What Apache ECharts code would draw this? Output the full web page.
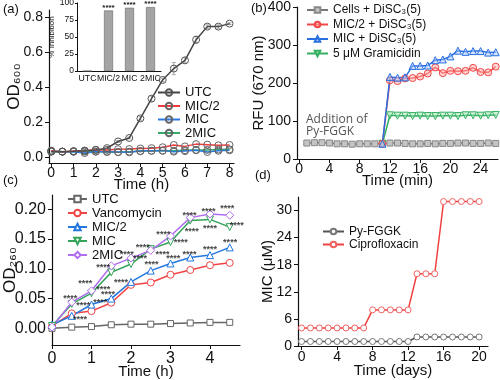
<!DOCTYPE html>
<html><head><meta charset="utf-8">
<script src="https://cdn.jsdelivr.net/npm/echarts@6/dist/echarts.min.js"></script>
<style>html,body{margin:0;padding:0;background:#fff}#c{width:500px;height:380px}</style>
</head><body><div id="c"></div>
<script>
// ---------- Panel (a): growth curves ----------
const timeA = [0,0.5,1,1.5,2,2.5,3,3.5,4,4.5,5,5.5,6,6.5,7,7.5,8];
const aUTC  = [0.030,0.030,0.032,0.035,0.040,0.050,0.088,0.108,0.220,0.333,0.440,0.505,0.552,0.670,0.745,0.745,0.762];
const aUTCerr = [0,0,0,0,0,0,0.005,0.005,0.01,0.015,0.01,0.035,0.015,0.02,0.01,0.01,0.005];
const aMIC2 = [0.035,0.030,0.033,0.036,0.040,0.040,0.044,0.045,0.048,0.050,0.055,0.068,0.060,0.073,0.070,0.066,0.068];
const aMIC  = [0.035,0.030,0.030,0.022,0.030,0.030,0.028,0.026,0.033,0.035,0.036,0.030,0.033,0.038,0.028,0.035,0.038];
const a2MIC = [0.030,0.030,0.030,0.030,0.030,0.028,0.027,0.030,0.033,0.035,0.035,0.035,0.038,0.040,0.040,0.042,0.043];
const aXTicks = [0,1,2,3,4,5,6,7,8];
const aYTicks = [0,0.2,0.4,0.6,0.8];
// inset
const insetCats = ['UTC','MIC/2','MIC','2MIC'];
const insetInhib = [0, 89, 93, 94];
const insetStars = ['', '****', '****', '****'];
// ---------- Panel (b): DiSC3(5) ----------
const timeB = [1,2,3,4,5,6,7,8,9,10,11,12,13,14,15,16,17,18,19,20,21,22,23,24,25,26];
const bCells = [42,43,43,42,40,40,39,40,40,40,41,42,42,41,40,40,41,40,41,41,42,42,41,41,42,41];
const timeB2 = [11,12,13,14,15,16,17,18,19,20,21,22,23,24,25,26];
const bMIC2 = [40,207,205,212,213,217,225,241,226,232,231,232,240,229,228,243];
const bMIC  = [40,216,214,215,245,245,246,260,262,270,285,282,284,284,280,281];
const bGram = [40,115,114,114,113,114,113,113,114,114,113,115,115,114,115,116];
const bXTicks = [0,4,8,12,16,20,24];
const bYTicks = [0,100,200,300,400];
// ---------- Panel (c): OD260 leakage ----------
const timeC = [0,0.5,1,1.5,2,2.5,3,3.5,4,4.5];
const cUTC  = [0.000,0.002,0.003,0.006,0.007,0.007,0.008,0.009,0.010,0.010];
const cVan  = [0.004,0.025,0.029,0.043,0.073,0.077,0.090,0.098,0.106,0.110];
const cMIC2 = [0.006,0.021,0.040,0.050,0.078,0.097,0.109,0.119,0.123,0.136];
const cMIC  = [0.004,0.041,0.059,0.094,0.108,0.133,0.145,0.181,0.183,0.170];
const c2MIC = [0.002,0.044,0.063,0.105,0.118,0.131,0.155,0.186,0.192,0.190];
const cStarX = [0.46,0.79,0.71,0.84,1.22,1.30,1.42,1.30,1.75,1.89,2.23,2.30,2.52,2.80,2.82,3.07,3.26,3.48,3.54,3.48,4.00,4.00,3.96,4.44,4.68,4.51];
const cStarY = [0.053,0.042,0.019,0.079,0.047,0.068,0.061,0.106,0.081,0.127,0.120,0.139,0.110,0.127,0.161,0.120,0.147,0.127,0.166,0.193,0.135,0.171,0.199,0.204,0.176,0.147];
const cXTicks = [0,1,2,3,4];
const cYTicks = [0,0.05,0.10,0.15,0.20];
// ---------- Panel (d): resistance ----------
const timeD = [0,1,2,3,4,5,6,7,8,9,10,11,12,13,14,15,16,17,18,19,20];
const dPy    = [1,1,1,1,1,1,1,1,1,1,1,1,1,2,2,2,2,2,2,2,2];
const dCipro = [4,4,4,4,4,4,4,4,8,8,8,8,8,16,16,16,32,32,32,32,32];
const dXTicks = [0,4,8,12,16,20];
const dYTicks = [0,6,12,18,24,30];

const FONT = 'Liberation Sans, Arial, sans-serif';
const pair = (xs, ys) => xs.map((x, i) => [x, ys[i]]);

function valAxis(o) {
  return Object.assign({
    type: 'value',
    axisLine: { show: true, onZero: false, lineStyle: { color: '#111', width: 1.2 } },
    axisTick: { show: true, length: 4, lineStyle: { color: '#111' } },
    splitLine: { show: false },
    nameLocation: 'middle',
    nameMoveOverlap: false,
    nameTextStyle: { fontFamily: FONT, fontSize: 15, color: '#111' },
  }, o);
}
function lbl(size, vals, fmt, margin) {
  return { fontFamily: FONT, fontSize: size, color: '#111', margin: margin == null ? 6 : margin, customValues: vals, formatter: fmt };
}
function lineSeries(name, xi, yi, data, color, symbol, size, fill, border, rot) {
  return {
    type: 'line', name, xAxisIndex: xi, yAxisIndex: yi, data,
    symbol, symbolSize: size, symbolRotate: rot || 0, showAllSymbol: true,
    lineStyle: { color, width: 1.5 },
    itemStyle: { color: fill, borderColor: border, borderWidth: 1 },
    emphasis: { disabled: true }, z: 3
  };
}
function legend(o, names) {
  return Object.assign({
    orient: 'vertical', data: names,
    formatter: n => n.slice(2), selectedMode: false,
    textStyle: { fontFamily: FONT, color: '#111' }
  }, o);
}

const chart = echarts.init(document.getElementById('c'), null, { renderer: 'canvas' });
const option = {
  animation: false,
  backgroundColor: '#fff',
  grid: [
    { left: 49, top: 10, width: 185, height: 153, outerBoundsMode: 'none' },   // a
    { left: 77, top: 3, width: 84, height: 68, outerBoundsMode: 'none' },      // inset
    { left: 297, top: 7, width: 201, height: 152, outerBoundsMode: 'none' },   // b
    { left: 52, top: 195, width: 188, height: 150, outerBoundsMode: 'none' },  // c
    { left: 298, top: 197, width: 190, height: 149, outerBoundsMode: 'none' }  // d
  ],
  xAxis: [
    valAxis({ gridIndex: 0, min: -0.1, max: 8.2, name: 'Time (h)', nameGap: 14,
      axisLabel: lbl(14, aXTicks, v => String(v), 3), axisTick: { show: true, length: 4, customValues: aXTicks } }),
    { type: 'category', gridIndex: 1, data: insetCats,
      axisLine: { lineStyle: { color: '#111', width: 1 } }, axisTick: { show: false },
      axisLabel: { fontFamily: FONT, fontSize: 8.7, color: '#111', margin: 3, interval: 0 } },
    valAxis({ gridIndex: 2, min: -0.3, max: 26.3, name: 'Time (min)', nameGap: 14,
      axisLabel: lbl(14, bXTicks, v => String(v), 3), axisTick: { show: true, length: 4, customValues: bXTicks } }),
    valAxis({ gridIndex: 3, min: 0, max: 4.76, name: 'Time (h)', nameGap: 19,
      axisLabel: lbl(16, cXTicks, v => String(v)), axisTick: { show: true, length: 4, customValues: cXTicks } }),
    valAxis({ gridIndex: 4, min: -0.4, max: 21, name: 'Time (days)', nameGap: 17,
      axisLabel: lbl(14, dXTicks, v => String(v), 4), axisTick: { show: true, length: 4, customValues: dXTicks } })
  ],
  yAxis: [
    valAxis({ gridIndex: 0, min: -0.035, max: 0.84, name: 'OD₆₀₀', nameGap: 26,
      nameTextStyle: { fontFamily: FONT, fontSize: 17, color: '#111' },
      axisLabel: lbl(14, aYTicks, v => v.toFixed(1)), axisTick: { show: true, length: 4, customValues: aYTicks } }),
    { type: 'value', gridIndex: 1, min: 0, max: 100, interval: 25,
      name: '% Inhibition', nameLocation: 'middle', nameGap: 17,
      nameTextStyle: { fontFamily: FONT, fontSize: 8, color: '#111' },
      splitLine: { show: false },
      axisLine: { show: true, lineStyle: { color: '#111', width: 1 } },
      axisTick: { show: true, length: 2, lineStyle: { color: '#111' } },
      axisLabel: { show: true, fontFamily: FONT, fontSize: 8.5, color: '#111', margin: 3 } },
    valAxis({ gridIndex: 2, min: 0, max: 400, name: 'RFU (670 nm)', nameGap: 31,
      axisLabel: lbl(14, bYTicks, v => String(v)), axisTick: { show: true, length: 4, customValues: bYTicks } }),
    valAxis({ gridIndex: 3, min: -0.028, max: 0.224, name: 'OD₂₆₀', nameGap: 33,
      nameTextStyle: { fontFamily: FONT, fontSize: 17, color: '#111' },
      axisLabel: lbl(16, cYTicks, v => v.toFixed(2)), axisTick: { show: true, length: 4, customValues: cYTicks } }),
    valAxis({ gridIndex: 4, min: 0, max: 33, name: 'MIC (μM)', nameGap: 22.5,
      axisLabel: lbl(14, dYTicks, v => String(v)), axisTick: { show: true, length: 4, customValues: dYTicks } })
  ],
  legend: [
    legend({ left: 152, top: 81, itemWidth: 22, itemHeight: 8, itemGap: 0.5,
      textStyle: { fontFamily: FONT, fontSize: 13, lineHeight: 13, color: '#111' } },
      ['a_UTC', 'a_MIC/2', 'a_MIC', 'a_2MIC']),
    legend({ left: 301, top: -2, itemWidth: 21, itemHeight: 7, itemGap: 0.5,
      textStyle: { fontFamily: FONT, fontSize: 12, lineHeight: 14, color: '#111' } },
      ['b_Cells + DiSC₃(5)', 'b_MIC/2 + DiSC₃(5)', 'b_MIC + DiSC₃(5)', 'b_5 μM Gramicidin']),
    legend({ left: 62, top: 187, itemWidth: 19, itemHeight: 8, itemGap: 0,
      textStyle: { fontFamily: FONT, fontSize: 13, lineHeight: 14, color: '#111' } },
      ['c_UTC', 'c_Vancomycin', 'c_MIC/2', 'c_MIC', 'c_2MIC']),
    legend({ left: 317, top: 220, itemWidth: 21, itemHeight: 7, itemGap: 0,
      textStyle: { fontFamily: FONT, fontSize: 12, lineHeight: 13, color: '#111' } },
      ['d_Py-FGGK', 'd_Ciprofloxacin'])
  ],
  series: [
    // (a)
    {
      type: 'custom', xAxisIndex: 0, yAxisIndex: 0, silent: true, z: 2,
      data: timeA.map((t, i) => [t, aUTC[i], aUTCerr[i]]),
      renderItem: (params, api) => {
        const x = api.value(0), y = api.value(1), e = api.value(2);
        if (!e) return null;
        const p1 = api.coord([x, y - e]), p2 = api.coord([x, y + e]);
        const st = { stroke: '#aaa', lineWidth: 1 };
        return { type: 'group', children: [
          { type: 'line', shape: { x1: p1[0], y1: p1[1], x2: p2[0], y2: p2[1] }, style: st },
          { type: 'line', shape: { x1: p1[0] - 2, y1: p1[1], x2: p1[0] + 2, y2: p1[1] }, style: st },
          { type: 'line', shape: { x1: p2[0] - 2, y1: p2[1], x2: p2[0] + 2, y2: p2[1] }, style: st }
        ]};
      }
    },
    lineSeries('a_2MIC', 0, 0, pair(timeA, a2MIC), '#33aa66', 'circle', 7, 'rgba(255,255,255,0)', '#666'),
    lineSeries('a_MIC', 0, 0, pair(timeA, aMIC), '#2a78e4', 'circle', 7, 'rgba(255,255,255,0)', '#666'),
    lineSeries('a_MIC/2', 0, 0, pair(timeA, aMIC2), '#f03c3c', 'circle', 7, 'rgba(255,255,255,0)', '#666'),
    lineSeries('a_UTC', 0, 0, pair(timeA, aUTC), '#444', 'circle', 7, 'rgba(255,255,255,0)', '#555'),
    // inset
    { type: 'bar', xAxisIndex: 1, yAxisIndex: 1, data: insetInhib, barWidth: 9,
      itemStyle: { color: '#a4a4a4', borderColor: '#666', borderWidth: 0.6 },
      label: { show: true, position: 'top', distance: -1, fontFamily: FONT, fontSize: 8, fontWeight: 'bold', color: '#111',
        formatter: p => insetStars[p.dataIndex] } },
    // (b)
    lineSeries('b_Cells + DiSC₃(5)', 2, 2, pair(timeB, bCells), '#777', 'rect', 6, '#c4c4c4', '#888'),
    lineSeries('b_5 μM Gramicidin', 2, 2, pair(timeB2, bGram), '#33b060', 'triangle', 7, 'rgba(160,230,180,0.5)', '#33b060', 180),
    lineSeries('b_MIC/2 + DiSC₃(5)', 2, 2, pair(timeB2, bMIC2), '#f04848', 'circle', 7, 'rgba(255,170,170,0.5)', '#f04848'),
    lineSeries('b_MIC + DiSC₃(5)', 2, 2, pair(timeB2, bMIC), '#2a6fe0', 'triangle', 7, 'rgba(170,200,255,0.5)', '#2a6fe0'),
    // (c)
    lineSeries('c_UTC', 3, 3, pair(timeC, cUTC), '#666', 'rect', 6, '#fff', '#666'),
    lineSeries('c_Vancomycin', 3, 3, pair(timeC, cVan), '#f04545', 'circle', 7, '#fff', '#f04545'),
    lineSeries('c_MIC/2', 3, 3, pair(timeC, cMIC2), '#2277e0', 'triangle', 7, '#fff', '#2277e0'),
    lineSeries('c_MIC', 3, 3, pair(timeC, cMIC), '#34a35a', 'triangle', 7, '#fff', '#34a35a', 180),
    lineSeries('c_2MIC', 3, 3, pair(timeC, c2MIC), '#b06ef0', 'diamond', 8, '#fff', '#b06ef0'),
    { type: 'scatter', xAxisIndex: 3, yAxisIndex: 3, silent: true, z: 5,
      data: pair(cStarX, cStarY), symbolSize: 1, itemStyle: { color: 'rgba(0,0,0,0)' },
      label: { show: true, position: 'inside', formatter: '****', offset: [0, 2],
        fontFamily: FONT, fontSize: 9, fontWeight: 'bold', color: '#111' } },
    // (d)
    lineSeries('d_Py-FGGK', 4, 4, pair(timeD, dPy), '#555', 'circle', 6, '#fff', '#777'),
    lineSeries('d_Ciprofloxacin', 4, 4, pair(timeD, dCipro), '#f04040', 'circle', 6, '#fff', '#f06060')
  ],
  graphic: [
    { type: 'text', left: 3, top: 3, style: { text: '(a)', font: '13px ' + FONT, fill: '#111' } },
    { type: 'text', left: 251, top: 2, style: { text: '(b)', font: '13px ' + FONT, fill: '#111' } },
    { type: 'text', left: 3, top: 174, style: { text: '(c)', font: '13px ' + FONT, fill: '#111' } },
    { type: 'text', left: 255, top: 169, style: { text: '(d)', font: '13px ' + FONT, fill: '#111' } },
    { type: 'text', left: 306, top: 114, style: { text: 'Addition of\nPy-FGGK', font: '12px Open Sans, sans-serif', fill: '#555', lineHeight: 12 } }
  ]
};
chart.setOption(option);
</script></body></html>
